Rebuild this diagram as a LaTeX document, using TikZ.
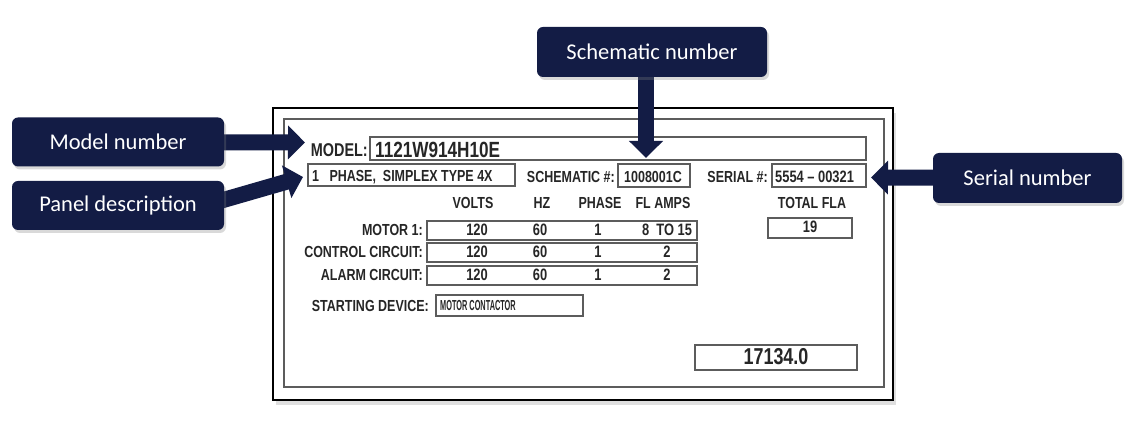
\documentclass[tikz,border=0pt]{standalone}
\usepackage{graphicx}
\usepackage{fontspec}
\setmainfont{Liberation Sans}
\newfontfamily\labelfont{Carlito}
\newfontfamily\platefont[FakeStretch=0.78]{Liberation Sans}
\usetikzlibrary{arrows.meta,shadows}
\pgfdeclarelayer{front}
\pgfsetlayers{main,front}
\definecolor{navy}{HTML}{131C45}
\definecolor{ink}{HTML}{262626}
\definecolor{rule}{HTML}{5C5C5C}
\newcommand{\pf}[1]{\platefont\bfseries\fontsize{#1}{#1}\selectfont}

\begin{document}
\begin{tikzpicture}[x=1pt,y=-1pt,
  tag/.style={rectangle,rounded corners=6pt,fill=navy,text=white,inner sep=0pt,
    font=\labelfont\fontsize{22.5}{26}\selectfont,
    drop shadow={opacity=0.3,shadow xshift=2pt,shadow yshift=-3pt}},
  pointer/.style={navy,line width=16pt,-{Triangle[length=17pt,width=33pt]}},
  field/.style={draw=rule,line width=1.1pt},
  txt/.style={inner sep=0pt,text=ink}]
  \useasboundingbox (0,0) rectangle (1136,427);
  % callouts
  \begin{pgfonlayer}{front}
    \node[tag,minimum width=212pt,minimum height=49pt] (mnum) at (118,142) {Model number};
    \node[tag,minimum width=212pt,minimum height=49pt] (pdesc) at (118,205.5) {Panel description};
    \node[tag,minimum width=230pt,minimum height=50pt] (schem) at (652,52) {Schematic number};
    \node[tag,minimum width=189pt,minimum height=50pt] (snum) at (1027.5,178) {Serial number};
  \end{pgfonlayer}
  % plate
  \draw[line width=1.3pt,fill=white,drop shadow={opacity=0.25,shadow xshift=3pt,shadow yshift=-5pt}] (273,108) rectangle (893,400);
  \draw[rule,line width=2pt] (284,119) rectangle (884,387);
  % top fields
  \draw[field] (370,137) rectangle (866,160);
  \draw[field] (308,164) rectangle (515,186);
  \draw[field] (618,164) rectangle (690,187);
  \draw[field] (772,164) rectangle (866,187);
  \node[txt,anchor=base east,font=\pf{18.5}] (modeltag) at (368,157) {MODEL:};
  \node[txt,anchor=base west,font=\pf{22}] (modelval) at (375,157.5) {1121W914H10E};
  \node[txt,anchor=base west,font=\pf{16}] (descval) at (312,182) {1\ \ \ PHASE,\ \ SIMPLEX TYPE 4X};
  \node[txt,anchor=base east,font=\pf{16}] (schemtag) at (615,183) {SCHEMATIC \#:};
  \node[txt,anchor=base west,font=\pf{16}] (schemval) at (624,183) {1008001C};
  \node[txt,anchor=base east,font=\pf{16}] (serialtag) at (768,183) {SERIAL \#:};
  \node[txt,anchor=base west,font=\pf{16.5}] (serialval) at (775,183) {5554 \textendash{} 00321};
  % ratings table
  \foreach \x/\head [count=\i] in {473/VOLTS,542/HZ,600/PHASE,663/FL AMPS,812/TOTAL FLA}
    \node[txt,anchor=base,font=\pf{16}] (head\i) at (\x,209) {\head};
  \foreach \y/\name/\fl [count=\i] in {221/MOTOR 1:/8\ \ TO 15,243/CONTROL CIRCUIT:/2,266/ALARM CIRCUIT:/2} {
    \draw[field] (427,\y) rectangle (697,\y+19);
    \node[txt,anchor=base east,font=\pf{16}] (row\i) at (423,\y+14.5) {\name};
    \node[txt,anchor=base,font=\pf{16.5}] (volt\i) at (477,\y+14.5) {120};
    \node[txt,anchor=base,font=\pf{16.5}] (hz\i) at (540,\y+14.5) {60};
    \node[txt,anchor=base,font=\pf{16.5}] (ph\i) at (598,\y+14.5) {1};
    \node[txt,anchor=base,font=\pf{16.5}] (fl\i) at (667,\y+14.5) {\fl};
  }
  \draw[field] (768,218) rectangle (852,238);
  \node[txt,anchor=base,font=\pf{16.5}] (totalval) at (810,233) {19};
  % starting device
  \draw[field] (436,295) rectangle (583,316);
  \node[txt,anchor=base east,font=\pf{16}] (starttag) at (429,312) {STARTING DEVICE:};
  \node[txt,anchor=base west,font=\pf{14.5}] (startval) at (440,311) {\scalebox{0.65}[1]{MOTOR CONTACTOR}};
  \draw[field] (695,345) rectangle (857,370);
  \node[txt,anchor=base,font=\pf{23}] (hours) at (776,365) {17134.0};
  % pointers
  \coordinate (mtip) at (305,142.5);
  \coordinate (ptip) at (303,177);
  \coordinate (stip) at (646,158);
  \coordinate (rtip) at (871,177.5);
  \draw[pointer] (mnum.center) -- (mtip);
  \draw[pointer] ([xshift=-20pt]pdesc.east) -- (ptip);
  \draw[pointer] (stip |- schem.center) -- (stip);
  \draw[pointer] (snum.center) -- (rtip);
\end{tikzpicture}
\end{document}
